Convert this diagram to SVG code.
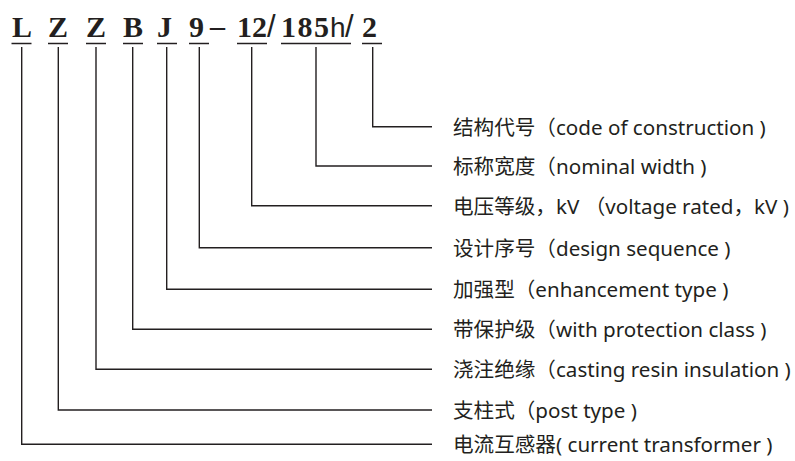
<svg xmlns="http://www.w3.org/2000/svg" width="795" height="461" viewBox="0 0 795 461">
<style>
.code{font-family:"Liberation Serif","Times New Roman",serif;font-weight:bold;font-size:30px;fill:#231f20}
.reg{font-family:"Liberation Sans",Arial,sans-serif;font-weight:normal;font-size:28px;fill:#231f20}
.sl{font-family:"Liberation Sans",Arial,sans-serif;font-weight:normal;font-size:31px;fill:#231f20}
.lbl{font-family:"Noto Sans","Noto Sans CJK SC",sans-serif;font-size:20.6px;fill:#231f20}
.ul{stroke:#231f20;stroke-width:1.5;fill:none}
.con{stroke:#231f20;stroke-width:1.4;fill:none}
</style>
<rect width="795" height="461" fill="#fff"/>
<g id="model-code">
  <text class="code" x="12" y="37">L</text>
  <text class="code" x="48" y="37">Z</text>
  <text class="code" x="86" y="37">Z</text>
  <text class="code" x="123" y="37">B</text>
  <text class="code" x="157" y="37">J</text>
  <text class="code" x="189" y="37">9</text>
  <text class="code" x="210" y="36">–</text>
  <text class="code" x="237" y="37">12</text>
  <text class="sl" x="267" y="37">/</text>
  <text class="code" x="281" y="37" textLength="48">185</text>
  <text class="reg" x="330" y="37">h</text>
  <text class="sl" x="345" y="37">/</text>
  <text class="code" x="362" y="37">2</text>
  <line class="ul" x1="11.5" y1="43.5" x2="31.5" y2="43.5"/>
  <line class="ul" x1="48" y1="43.5" x2="68" y2="43.5"/>
  <line class="ul" x1="86" y1="43.5" x2="106" y2="43.5"/>
  <line class="ul" x1="123" y1="43.5" x2="143" y2="43.5"/>
  <line class="ul" x1="157" y1="43.5" x2="177" y2="43.5"/>
  <line class="ul" x1="189" y1="43.5" x2="209" y2="43.5"/>
  <line class="ul" x1="237" y1="43.5" x2="267" y2="43.5"/>
  <line class="ul" x1="281" y1="43.5" x2="351" y2="43.5"/>
  <line class="ul" x1="362" y1="43.5" x2="382" y2="43.5"/>
</g>
<g id="connectors">
  <polyline class="con" points="372.7,47 372.7,126.7 432,126.7"/>
  <polyline class="con" points="316,47 316,166 432,166"/>
  <polyline class="con" points="251.7,47 251.7,205.7 432,205.7"/>
  <polyline class="con" points="199.3,47 199.3,247.7 432,247.7"/>
  <polyline class="con" points="166.7,47 166.7,289.3 432,289.3"/>
  <polyline class="con" points="132.7,47 132.7,329.3 432,329.3"/>
  <polyline class="con" points="96,47 96,369.3 432,369.3"/>
  <polyline class="con" points="58.3,47 58.3,410 432,410"/>
  <polyline class="con" points="21.7,47 21.7,444.3 432,444.3"/>
</g>
<g id="label-construction"><text class="lbl" x="453" y="134.5">结构代号（code of construction )</text></g>
<g id="label-width"><text class="lbl" x="453" y="174">标称宽度（nominal width )</text></g>
<g id="label-voltage"><text class="lbl" x="453" y="213.5">电压等级，kV （voltage rated，kV )</text></g>
<g id="label-design"><text class="lbl" x="453" y="255.5">设计序号（design sequence )</text></g>
<g id="label-enhancement"><text class="lbl" x="453" y="297">加强型（enhancement type )</text></g>
<g id="label-protection"><text class="lbl" x="453" y="337">带保护级（with protection class )</text></g>
<g id="label-casting"><text class="lbl" x="453" y="377">浇注绝缘（casting resin insulation )</text></g>
<g id="label-post"><text class="lbl" x="453" y="418">支柱式（post type )</text></g>
<g id="label-ct"><text class="lbl" x="453" y="452">电流互感器( current transformer )</text></g>
</svg>
